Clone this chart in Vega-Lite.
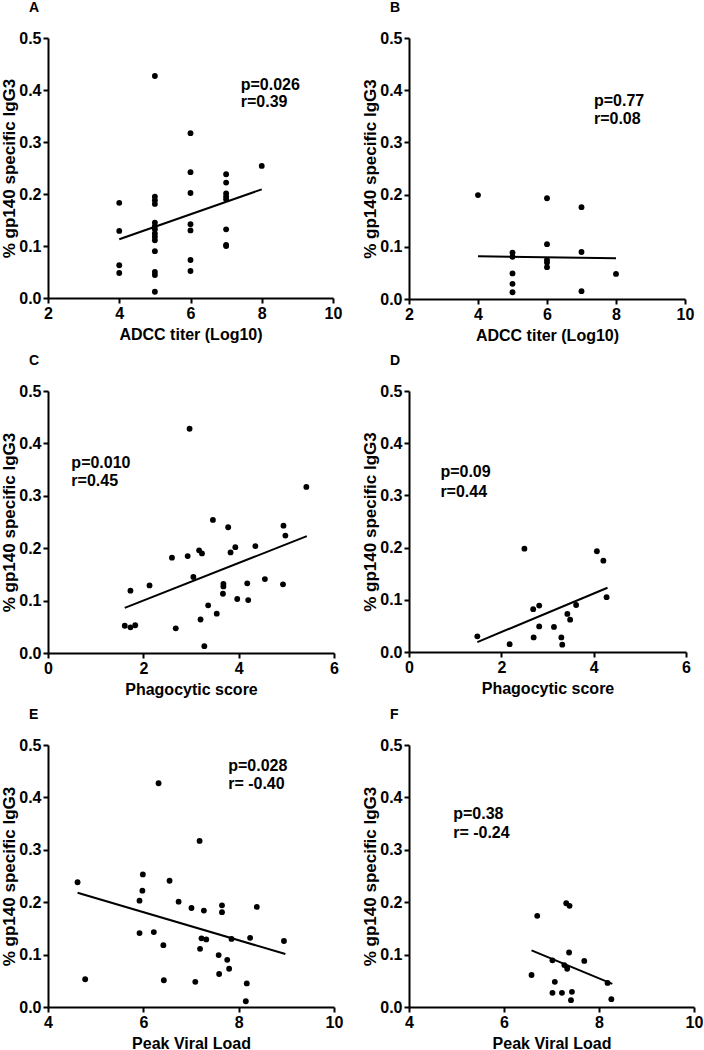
{
  "$schema": "https://vega.github.io/schema/vega-lite/v6.json",
  "padding": {"top": 1, "left": 0, "right": 0, "bottom": 0},
  "background": "white",
  "columns": 2,
  "spacing": {"row": 11, "column": 18},
  "config": {
    "view": {"stroke": null},
    "font": "Liberation Sans",
    "axis": {"domainColor": "black", "domainWidth": 2, "tickColor": "black", "tickWidth": 2, "tickSize": 5, "labelFont": "Liberation Sans", "labelFontSize": 16, "labelFontWeight": "bold", "labelColor": "black", "titleFont": "Liberation Sans", "titleFontWeight": "bold", "titleColor": "black", "grid": false, "labelPadding": 2, "labelFlush": false, "labelOverlap": false},
    "axisX": {"titleFontSize": 16, "titlePadding": 5},
    "axisY": {"titleFontSize": 17, "titlePadding": 0},
    "title": {"anchor": "start", "frame": "group", "fontSize": 14, "fontWeight": "bold", "font": "Liberation Sans", "color": "black", "dx": -19, "offset": 15},
    "circle": {"size": 34, "color": "black", "opacity": 1},
    "line": {"color": "black", "strokeWidth": 2},
    "text": {"font": "Liberation Sans", "fontSize": 16, "fontWeight": "bold", "align": "left", "baseline": "middle", "color": "black"}
  },
  "concat": [
    {
      "title": "A", "width": 285, "height": 260,
      "encoding": {
        "x": {"field": "x", "type": "quantitative", "title": "ADCC titer (Log10)", "scale": {"domain": [2, 10], "nice": false, "zero": false}, "axis": {"values": [2, 4, 6, 8, 10]}},
        "y": {"field": "y", "type": "quantitative", "title": "% gp140 specific IgG3", "scale": {"domain": [0, 0.5], "nice": false}, "axis": {"values": [0, 0.1, 0.2, 0.3, 0.4, 0.5], "format": ".1f"}}
      },
      "layer": [
        {"data": {"values": [
          {"x": 4, "y": 0.183}, {"x": 4, "y": 0.129}, {"x": 4, "y": 0.063}, {"x": 4, "y": 0.048},
          {"x": 5, "y": 0.427}, {"x": 5, "y": 0.195}, {"x": 5, "y": 0.188}, {"x": 5, "y": 0.181}, {"x": 5, "y": 0.145}, {"x": 5, "y": 0.138}, {"x": 5, "y": 0.132}, {"x": 5, "y": 0.124}, {"x": 5, "y": 0.118}, {"x": 5, "y": 0.111}, {"x": 5, "y": 0.090}, {"x": 5, "y": 0.050}, {"x": 5, "y": 0.044}, {"x": 5, "y": 0.012},
          {"x": 6, "y": 0.317}, {"x": 6, "y": 0.242}, {"x": 6, "y": 0.202}, {"x": 6, "y": 0.142}, {"x": 6, "y": 0.130}, {"x": 6, "y": 0.073}, {"x": 6, "y": 0.052},
          {"x": 7, "y": 0.238}, {"x": 7, "y": 0.222}, {"x": 7, "y": 0.201}, {"x": 7, "y": 0.195}, {"x": 7, "y": 0.190}, {"x": 7, "y": 0.132}, {"x": 7, "y": 0.102}, {"x": 7, "y": 0.100},
          {"x": 8, "y": 0.254}
        ]}, "mark": "circle"},
        {"data": {"values": [{"x": 4, "y": 0.113}, {"x": 8, "y": 0.209}]}, "mark": "line"},
        {"data": {"values": [{"x": 7.41, "y": 0.41, "t": "p=0.026"}, {"x": 7.41, "y": 0.376, "t": "r=0.39"}]}, "mark": "text", "encoding": {"text": {"field": "t"}}}
      ]
    },
    {
      "title": "B", "width": 276, "height": 261,
      "encoding": {
        "x": {"field": "x", "type": "quantitative", "title": "ADCC titer (Log10)", "scale": {"domain": [2, 10], "nice": false, "zero": false}, "axis": {"values": [2, 4, 6, 8, 10]}},
        "y": {"field": "y", "type": "quantitative", "title": "% gp140 specific IgG3", "scale": {"domain": [0, 0.5], "nice": false}, "axis": {"values": [0, 0.1, 0.2, 0.3, 0.4, 0.5], "format": ".1f"}}
      },
      "layer": [
        {"data": {"values": [
          {"x": 4, "y": 0.199},
          {"x": 5, "y": 0.089}, {"x": 5, "y": 0.081}, {"x": 5, "y": 0.049}, {"x": 5, "y": 0.029}, {"x": 5, "y": 0.013},
          {"x": 6, "y": 0.193}, {"x": 6, "y": 0.105}, {"x": 6, "y": 0.075}, {"x": 6, "y": 0.070}, {"x": 6, "y": 0.061},
          {"x": 7, "y": 0.176}, {"x": 7, "y": 0.090}, {"x": 7, "y": 0.015},
          {"x": 8, "y": 0.048}
        ]}, "mark": "circle"},
        {"data": {"values": [{"x": 4, "y": 0.082}, {"x": 8, "y": 0.078}]}, "mark": "line"},
        {"data": {"values": [{"x": 7.36, "y": 0.38, "t": "p=0.77"}, {"x": 7.36, "y": 0.344, "t": "r=0.08"}]}, "mark": "text", "encoding": {"text": {"field": "t"}}}
      ]
    },
    {
      "title": "C", "width": 286, "height": 262,
      "encoding": {
        "x": {"field": "x", "type": "quantitative", "title": "Phagocytic score", "scale": {"domain": [0, 6], "nice": false}, "axis": {"values": [0, 2, 4, 6]}},
        "y": {"field": "y", "type": "quantitative", "title": "% gp140 specific IgG3", "scale": {"domain": [0, 0.5], "nice": false}, "axis": {"values": [0, 0.1, 0.2, 0.3, 0.4, 0.5], "format": ".1f"}}
      },
      "layer": [
        {"data": {"values": [
          {"x": 1.61, "y": 0.052}, {"x": 1.73, "y": 0.049}, {"x": 1.83, "y": 0.053}, {"x": 1.73, "y": 0.119}, {"x": 2.13, "y": 0.129},
          {"x": 2.60, "y": 0.182}, {"x": 2.68, "y": 0.047}, {"x": 2.93, "y": 0.185}, {"x": 2.97, "y": 0.428}, {"x": 3.05, "y": 0.145},
          {"x": 3.17, "y": 0.196}, {"x": 3.23, "y": 0.190}, {"x": 3.20, "y": 0.064}, {"x": 3.28, "y": 0.013}, {"x": 3.36, "y": 0.091},
          {"x": 3.46, "y": 0.254}, {"x": 3.54, "y": 0.075}, {"x": 3.68, "y": 0.132}, {"x": 3.68, "y": 0.127}, {"x": 3.67, "y": 0.113},
          {"x": 3.78, "y": 0.240}, {"x": 3.83, "y": 0.192}, {"x": 3.93, "y": 0.202}, {"x": 3.97, "y": 0.103}, {"x": 4.18, "y": 0.133},
          {"x": 4.20, "y": 0.101}, {"x": 4.35, "y": 0.204}, {"x": 4.55, "y": 0.141}, {"x": 4.93, "y": 0.131}, {"x": 4.94, "y": 0.243},
          {"x": 4.98, "y": 0.224}, {"x": 5.42, "y": 0.317}
        ]}, "mark": "circle"},
        {"data": {"values": [{"x": 1.61, "y": 0.086}, {"x": 5.43, "y": 0.223}]}, "mark": "line"},
        {"data": {"values": [{"x": 0.49, "y": 0.363, "t": "p=0.010"}, {"x": 0.49, "y": 0.328, "t": "r=0.45"}]}, "mark": "text", "encoding": {"text": {"field": "t"}}}
      ]
    },
    {
      "title": "D", "width": 277, "height": 261,
      "encoding": {
        "x": {"field": "x", "type": "quantitative", "title": "Phagocytic score", "scale": {"domain": [0, 6], "nice": false}, "axis": {"values": [0, 2, 4, 6]}},
        "y": {"field": "y", "type": "quantitative", "title": "% gp140 specific IgG3", "scale": {"domain": [0, 0.5], "nice": false}, "axis": {"values": [0, 0.1, 0.2, 0.3, 0.4, 0.5], "format": ".1f"}}
      },
      "layer": [
        {"data": {"values": [
          {"x": 1.48, "y": 0.030}, {"x": 2.18, "y": 0.015}, {"x": 2.50, "y": 0.198}, {"x": 2.69, "y": 0.082}, {"x": 2.70, "y": 0.028},
          {"x": 2.82, "y": 0.089}, {"x": 2.82, "y": 0.049}, {"x": 3.14, "y": 0.048}, {"x": 3.30, "y": 0.028}, {"x": 3.32, "y": 0.014},
          {"x": 3.43, "y": 0.073}, {"x": 3.49, "y": 0.062}, {"x": 3.62, "y": 0.090}, {"x": 4.07, "y": 0.193}, {"x": 4.21, "y": 0.175},
          {"x": 4.28, "y": 0.105}
        ]}, "mark": "circle"},
        {"data": {"values": [{"x": 1.48, "y": 0.019}, {"x": 4.30, "y": 0.123}]}, "mark": "line"},
        {"data": {"values": [{"x": 0.68, "y": 0.344, "t": "p=0.09"}, {"x": 0.68, "y": 0.307, "t": "r=0.44"}]}, "mark": "text", "encoding": {"text": {"field": "t"}}}
      ]
    },
    {
      "title": "E", "width": 286, "height": 262,
      "encoding": {
        "x": {"field": "x", "type": "quantitative", "title": "Peak Viral Load", "scale": {"domain": [4, 10], "nice": false, "zero": false}, "axis": {"values": [4, 6, 8, 10]}},
        "y": {"field": "y", "type": "quantitative", "title": "% gp140 specific IgG3", "scale": {"domain": [0, 0.5], "nice": false}, "axis": {"values": [0, 0.1, 0.2, 0.3, 0.4, 0.5], "format": ".1f"}}
      },
      "layer": [
        {"data": {"values": [
          {"x": 4.62, "y": 0.238}, {"x": 4.78, "y": 0.053}, {"x": 5.92, "y": 0.203}, {"x": 5.92, "y": 0.141}, {"x": 5.98, "y": 0.222},
          {"x": 5.99, "y": 0.253}, {"x": 6.22, "y": 0.143}, {"x": 6.32, "y": 0.427}, {"x": 6.42, "y": 0.118}, {"x": 6.43, "y": 0.051},
          {"x": 6.55, "y": 0.241}, {"x": 6.74, "y": 0.201}, {"x": 7.01, "y": 0.189}, {"x": 7.09, "y": 0.048}, {"x": 7.18, "y": 0.317},
          {"x": 7.19, "y": 0.111}, {"x": 7.22, "y": 0.131}, {"x": 7.27, "y": 0.184}, {"x": 7.32, "y": 0.129}, {"x": 7.58, "y": 0.099},
          {"x": 7.59, "y": 0.063}, {"x": 7.65, "y": 0.194}, {"x": 7.65, "y": 0.181}, {"x": 7.76, "y": 0.090}, {"x": 7.80, "y": 0.073},
          {"x": 7.85, "y": 0.130}, {"x": 8.15, "y": 0.011}, {"x": 8.17, "y": 0.045}, {"x": 8.24, "y": 0.132}, {"x": 8.38, "y": 0.191},
          {"x": 8.95, "y": 0.126}
        ]}, "mark": "circle"},
        {"data": {"values": [{"x": 4.62, "y": 0.218}, {"x": 8.98, "y": 0.101}]}, "mark": "line"},
        {"data": {"values": [{"x": 7.78, "y": 0.46, "t": "p=0.028"}, {"x": 7.78, "y": 0.425, "t": "r= -0.40"}]}, "mark": "text", "encoding": {"text": {"field": "t"}}}
      ]
    },
    {
      "title": "F", "width": 285, "height": 262,
      "encoding": {
        "x": {"field": "x", "type": "quantitative", "title": "Peak Viral Load", "scale": {"domain": [4, 10], "nice": false, "zero": false}, "axis": {"values": [4, 6, 8, 10]}},
        "y": {"field": "y", "type": "quantitative", "title": "% gp140 specific IgG3", "scale": {"domain": [0, 0.5], "nice": false}, "axis": {"values": [0, 0.1, 0.2, 0.3, 0.4, 0.5], "format": ".1f"}}
      },
      "layer": [
        {"data": {"values": [
          {"x": 6.58, "y": 0.061}, {"x": 6.70, "y": 0.174}, {"x": 7.02, "y": 0.089}, {"x": 7.02, "y": 0.027}, {"x": 7.07, "y": 0.048},
          {"x": 7.22, "y": 0.027}, {"x": 7.27, "y": 0.080}, {"x": 7.31, "y": 0.198}, {"x": 7.38, "y": 0.193}, {"x": 7.33, "y": 0.073},
          {"x": 7.37, "y": 0.104}, {"x": 7.43, "y": 0.029}, {"x": 7.41, "y": 0.013}, {"x": 7.69, "y": 0.088}, {"x": 8.18, "y": 0.046},
          {"x": 8.26, "y": 0.015}
        ]}, "mark": "circle"},
        {"data": {"values": [{"x": 6.58, "y": 0.108}, {"x": 8.28, "y": 0.044}]}, "mark": "line"},
        {"data": {"values": [{"x": 4.93, "y": 0.368, "t": "p=0.38"}, {"x": 4.93, "y": 0.333, "t": "r= -0.24"}]}, "mark": "text", "encoding": {"text": {"field": "t"}}}
      ]
    }
  ]
}
